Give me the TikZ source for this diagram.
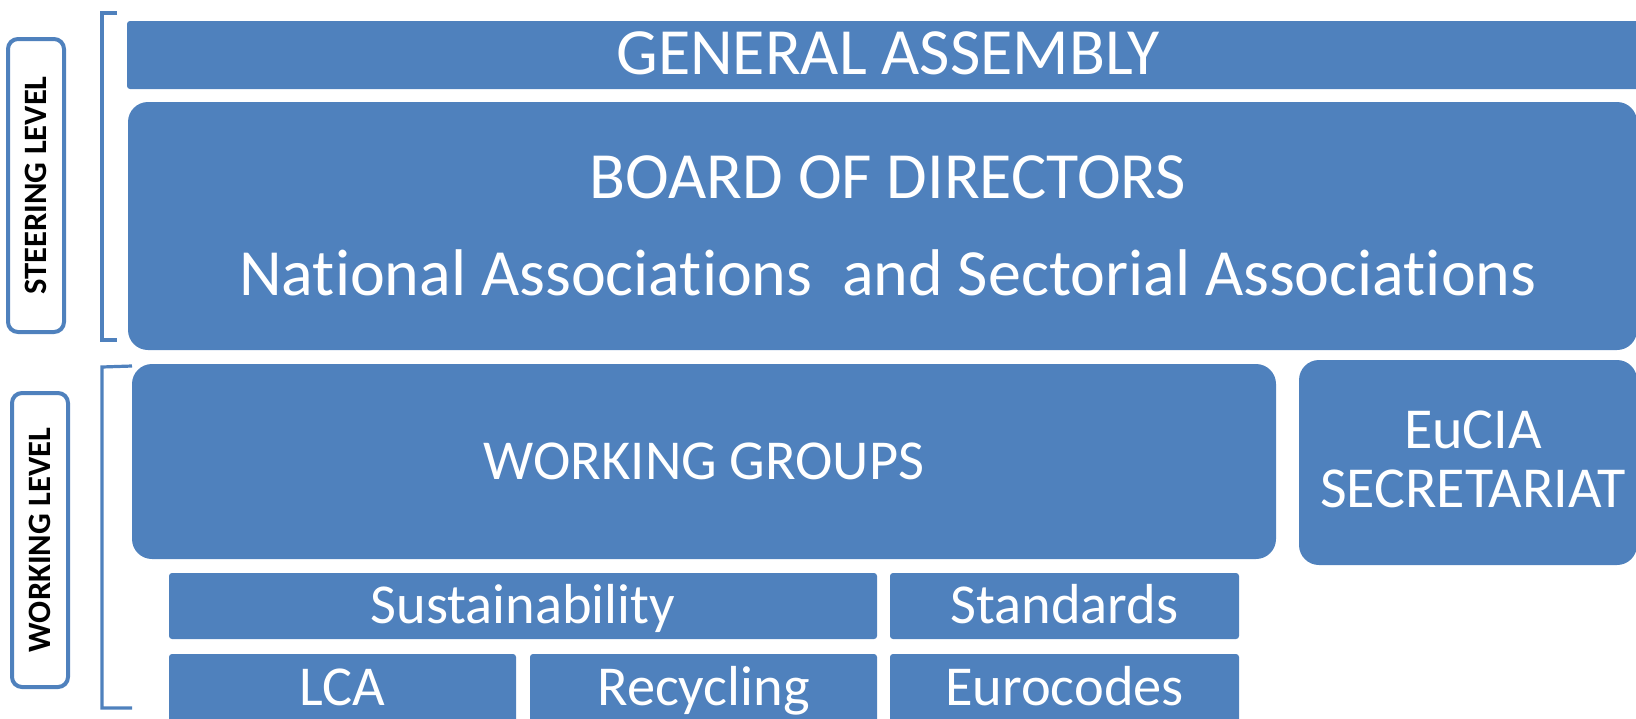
\documentclass[tikz,border=0pt]{standalone}
\usepackage{fontspec}
\setmainfont{Carlito}[Ligatures=NoCommon]
\usetikzlibrary{fit}
\definecolor{ob}{HTML}{4F81BD}
\begin{document}
\begin{tikzpicture}[x=0.5pt,y=-0.5pt,
  box/.style={fill=ob, draw=none, inner sep=0pt, rounded corners=10pt},
  sbox/.style={fill=ob, draw=none, inner sep=0pt, rounded corners=1.5pt},
  lvl/.style={draw=ob, line width=2pt, rounded corners=5pt, inner sep=0pt},
  brk/.style={draw=ob, line width=1.6pt},
  big/.style={text=white, inner sep=0pt, anchor=base, font=\fontsize{33}{37}\selectfont},
  mid/.style={text=white, inner sep=0pt, anchor=base, font=\fontsize{28.2}{32}\selectfont},
  lab/.style={text=black, inner sep=0pt, rotate=90, font=\bfseries\fontsize{16.3}{18}\selectfont}
]
\useasboundingbox (0,0) rectangle (1636,718);
\clip (0,0) rectangle (1636,718);
% level labels
\node[lvl, fit={(8,39)(64,332)}] (stbox) {};
\node[lab] (st) at (stbox.center) {STEERING LEVEL};
\node[lvl, fit={(12,393)(68,687)}] (wkbox) {};
\node[lab] (wk) at (wkbox.center) {WORKING LEVEL};
% brackets
\draw[brk] (117,13) -- (102,13) -- (102,340) -- (117,340);
\draw[brk] (132,366) -- (102,367) -- (102,708) -- (132,708);
% steering
\node[sbox, fit={(127,21)(1650,89)}] (ga) {};
\node[big] (gat) at (888,74) {GENERAL ASSEMBLY};
\node[box, fit={(128,102)(1637,350)}] (bod) {};
\node[big] (bodt) at (888,198) {BOARD OF DIRECTORS};
\node[big] (nat) at (888,295) {National Associations\ \ and Sectorial Associations};
% working
\node[box, fit={(132,364)(1276,559)}] (wg) {};
\node[mid] (wgt) at (wg.center |- 0,479) {WORKING GROUPS};
\node[box, fit={(1299,360)(1637,565)}] (sec) {};
\node[mid, font=\fontsize{29}{32}\selectfont] (sec1) at (1473,448) {EuCIA};
\node[mid, font=\fontsize{29}{32}\selectfont] (sec2) at (1473,507) {SECRETARIAT};
% sub groups
\node[sbox, fit={(169,573)(877,639)}] (sus) {};
\node[mid] (sust) at (sus.center |- 0,623) {Sustainability};
\node[sbox, fit={(890,573)(1239,639)}] (std) {};
\node[mid] (stdt) at (std.center |- 0,623) {Standards};
\node[sbox, fit={(169,654)(516,740)}] (lca) {};
\node[mid] (lcat) at (lca.center |- 0,705) {LCA};
\node[sbox, fit={(530,654)(877,740)}] (rec) {};
\node[mid] (rect) at (rec.center |- 0,705) {Recycling};
\node[sbox, fit={(890,654)(1239,740)}] (euc) {};
\node[mid] (euct) at (euc.center |- 0,705) {Eurocodes};
\end{tikzpicture}
\end{document}
